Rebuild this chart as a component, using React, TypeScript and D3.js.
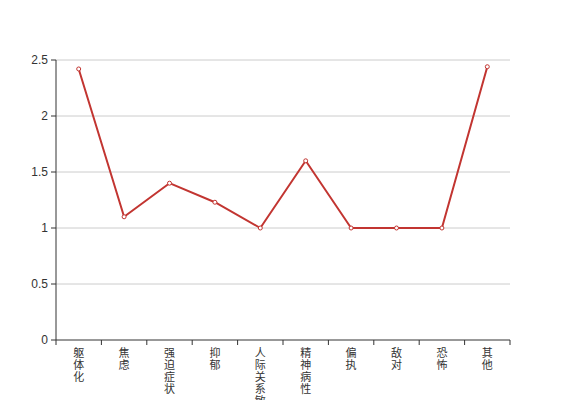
import React from "react";
import * as d3 from "d3";

const categories = ["躯体化", "焦虑", "强迫症状", "抑郁", "人际关系敏感", "精神病性", "偏执", "敌对", "恐怖", "其他"];
const values = [2.42, 1.1, 1.4, 1.23, 1.0, 1.6, 1.0, 1.0, 1.0, 2.44];
const yTicks = [0, 0.5, 1, 1.5, 2, 2.5];

const W = 567;
const H = 400;
const left = 56;
const right = 510;
const top = 60;
const bottom = 340;
const color = "#c23531";
const font = "'Liberation Sans', 'Noto Sans CJK SC', sans-serif";

export default function App() {
  const x = d3.scaleBand<string>().domain(categories).range([left, right]);
  const y = d3.scaleLinear().domain([0, 2.5]).range([bottom, top]);
  const cx = (c: string) => (x(c) as number) + x.bandwidth() / 2;
  const line = d3
    .line<number>()
    .x((_, i) => cx(categories[i]))
    .y((d) => y(d));
  const edges = categories.map((c) => x(c) as number).concat([right]);

  return (
    <svg width={W} height={H} style={{ position: "absolute", left: 0, top: 0, background: "#fff" }}>
      {yTicks.map((t) => (
        <g key={t}>
          {t !== 0 && (
            <line x1={left} x2={right} y1={y(t)} y2={y(t)} stroke="#ccc" strokeWidth={1} />
          )}
          <line x1={left - 5} x2={left} y1={y(t)} y2={y(t)} stroke="#333" />
          <text x={left - 8} y={y(t)} dy="0.35em" textAnchor="end" fontSize={12} fill="#333" fontFamily={font}>
            {t}
          </text>
        </g>
      ))}
      <line x1={left} x2={left} y1={top} y2={bottom} stroke="#333" />
      <line x1={left} x2={right} y1={bottom} y2={bottom} stroke="#333" />
      {edges.map((e, i) => (
        <line key={i} x1={e} x2={e} y1={bottom} y2={bottom + 5} stroke="#333" />
      ))}
      {categories.map((c) => (
        <g key={c}>
          {Array.from(c).map((ch, j) => (
            <text
              key={j}
              x={cx(c)}
              y={bottom + 17 + j * 12}
              textAnchor="middle"
              fontSize={11}
              fill="#333"
              fontFamily={font}
            >
              {ch}
            </text>
          ))}
        </g>
      ))}
      <path d={line(values) || ""} fill="none" stroke={color} strokeWidth={2} strokeLinejoin="round" />
      {values.map((v, i) => (
        <circle key={i} cx={cx(categories[i])} cy={y(v)} r={2} fill="#fff" stroke={color} strokeWidth={1} />
      ))}
    </svg>
  );
}
